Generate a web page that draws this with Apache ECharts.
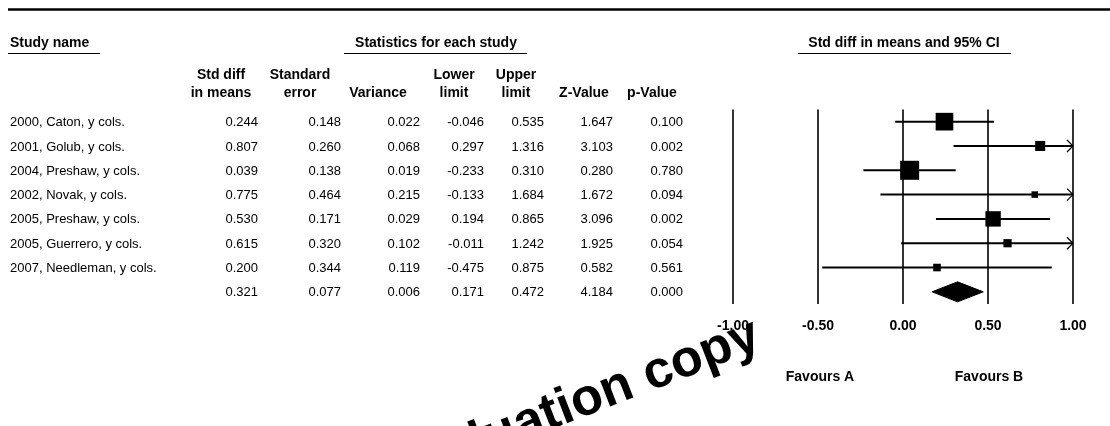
<!DOCTYPE html>
<html>
<head>
<meta charset="utf-8">
<script src="https://cdn.jsdelivr.net/npm/echarts@6/dist/echarts.min.js"></script>
<style>html,body{margin:0;padding:0;background:#fff}#c{width:1110px;height:426px}</style>
</head>
<body>
<div id="c"></div>
<script>
// ---- data ----
const studies = ['2000, Caton, y cols.', '2001, Golub, y cols.', '2004, Preshaw, y cols.', '2002, Novak, y cols.', '2005, Preshaw, y cols.', '2005, Guerrero, y cols.', '2007, Needleman, y cols.', ''];
const rowKeys = ['r1', 'r2', 'r3', 'r4', 'r5', 'r6', 'r7', 'summary'];
const stdDiff = [0.244, 0.807, 0.039, 0.775, 0.530, 0.615, 0.200, 0.321];
const stdErr = [0.148, 0.260, 0.138, 0.464, 0.171, 0.320, 0.344, 0.077];
const variance = [0.022, 0.068, 0.019, 0.215, 0.029, 0.102, 0.119, 0.006];
const lowerLimit = [-0.046, 0.297, -0.233, -0.133, 0.194, -0.011, -0.475, 0.171];
const upperLimit = [0.535, 1.316, 0.310, 1.684, 0.865, 1.242, 0.875, 0.472];
const zValue = [1.647, 3.103, 0.280, 1.672, 3.096, 1.925, 0.582, 4.184];
const pValue = [0.100, 0.002, 0.780, 0.094, 0.002, 0.054, 0.561, 0.000];
const xMin = -1, xMax = 1, xStep = 0.5;
const favourLabels = ['Favours A', 'Favours B'];

// ---- layout ----
const FONT = "'Liberation Sans', Arial, sans-serif";
const valueCols = [stdDiff, stdErr, variance, lowerLimit, upperLimit, zValue, pValue];
const colRight = [258, 341, 420, 484, 544, 613, 683];
const colCenter = [221, 300, 378, 454, 516, 584, 652];
const colHeaders = [['Std diff', 'in means'], ['Standard', 'error'], ['', 'Variance'], ['Lower', 'limit'], ['Upper', 'limit'], ['', 'Z-Value'], ['', 'p-Value']];

const chart = echarts.init(document.getElementById('c'), null, {renderer: 'canvas'});

const rows = stdDiff.map((v, i) => [v, i]);

function tableItem(params, api) {
  const i = params.dataIndex;
  const y = api.coord([0, i])[1] + 1;
  const children = [{
    type: 'text',
    style: {text: studies[i], x: 10, y: y, textAlign: 'left', textVerticalAlign: 'middle', font: '13px ' + FONT, fill: '#000'}
  }];
  valueCols.forEach((arr, c) => {
    children.push({
      type: 'text',
      style: {text: arr[i].toFixed(3), x: colRight[c], y: y, textAlign: 'right', textVerticalAlign: 'middle', font: '13px ' + FONT, fill: '#000'}
    });
  });
  return {type: 'group', children: children};
}

function forestItem(params, api) {
  const i = params.dataIndex;
  const c = api.coord([stdDiff[i], i]);
  const lo = api.coord([Math.max(lowerLimit[i], xMin), i]);
  const hiVal = Math.min(upperLimit[i], xMax);
  const hi = api.coord([hiVal, i]);
  const children = [];
  if (i === stdDiff.length - 1) {
    const h = 10;
    children.push({
      type: 'polygon',
      shape: {points: [[lo[0], c[1]], [c[0], c[1] - h], [hi[0], c[1]], [c[0], c[1] + h]]},
      style: {fill: '#000', stroke: '#000', lineWidth: 1}
    });
    return {type: 'group', children: children};
  }
  children.push({
    type: 'line',
    shape: {x1: lo[0], y1: c[1], x2: hi[0], y2: c[1]},
    style: {stroke: '#000', lineWidth: 2}
  });
  if (upperLimit[i] > xMax) {
    children.push({
      type: 'polyline',
      shape: {points: [[hi[0] - 6, c[1] - 6], [hi[0], c[1]], [hi[0] - 6, c[1] + 6]]},
      style: {stroke: '#000', lineWidth: 1.2, fill: null}
    });
  }
  const s = Math.max(6.5, 2.62 * Math.sqrt(1 / variance[i]));
  children.push({
    type: 'rect',
    shape: {x: c[0] - s / 2, y: c[1] - s / 2, width: s, height: s},
    style: {fill: '#000'}
  });
  return {type: 'group', children: children};
}

function txt(text, x, y, size, bold, align) {
  return {type: 'text', x: x, y: y, style: {text: text, textAlign: align || 'center', textVerticalAlign: 'middle', font: (bold ? 'bold ' : '') + size + 'px ' + FONT, fill: '#000'}};
}
function hline(x1, x2, y, w) {
  return {type: 'line', shape: {x1: x1, y1: y, x2: x2, y2: y}, style: {stroke: '#000', lineWidth: w || 1}};
}

const graphics = [
  hline(8, 1110, 9.5, 2.5),
  txt('Study name', 10, 43, 14, true, 'left'),
  hline(8, 100, 53.5),
  txt('Statistics for each study', 436, 43, 14, true),
  hline(344, 527, 53.5),
  txt('Std diff in means and 95% CI', 904, 43, 14, true),
  hline(798, 1011, 53.5),
  txt(favourLabels[0], 820, 377, 14, true),
  txt(favourLabels[1], 989, 377, 14, true)
];
colHeaders.forEach((h, c) => {
  if (h[0]) graphics.push(txt(h[0], colCenter[c], 75, 14, true));
  graphics.push(txt(h[1], colCenter[c], 93, 14, true));
});
graphics.push({
  type: 'text', x: 572, y: 406, rotation: 0.37, z: 100,
  style: {text: 'Evaluation copy', textAlign: 'center', textVerticalAlign: 'middle', font: 'bold 52px ' + FONT, fill: '#000'}
});

chart.setOption({
  animation: false,
  backgroundColor: '#fff',
  grid: {left: 733, right: 37, top: 109.5, bottom: 122, containLabel: false},
  xAxis: {
    type: 'value', min: xMin, max: xMax, interval: xStep,
    axisLine: {show: false}, axisTick: {show: false},
    splitLine: {show: true, lineStyle: {color: '#000', width: 1.6}},
    axisLabel: {fontFamily: FONT, fontWeight: 'bold', fontSize: 14, color: '#000', margin: 15,
      formatter: v => v.toFixed(2)}
  },
  yAxis: {type: 'category', data: rowKeys, inverse: true, show: false},
  series: [
    {type: 'custom', renderItem: tableItem, data: rows, encode: {x: 0, y: 1}, clip: false, silent: true},
    {type: 'custom', renderItem: forestItem, data: rows, encode: {x: 0, y: 1}, clip: false, silent: true}
  ],
  graphic: graphics
});
</script>
</body>
</html>
